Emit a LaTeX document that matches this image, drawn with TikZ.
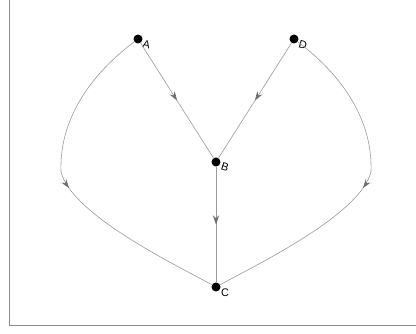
\documentclass[tikz,border=0pt]{standalone}
\usepackage{fontspec}
\setmainfont{Liberation Sans}
\usetikzlibrary{arrows.meta,decorations.markings}
\definecolor{arrgray}{HTML}{6E6E6E}
\tikzset{
  dot/.style={circle,fill=black,inner sep=0pt,minimum size=9pt},
  lab/.style={font=\fontsize{11pt}{12pt}\selectfont,inner sep=0pt},
  edge/.style={draw=gray!80,line width=0.6pt,
    postaction={decorate,decoration={markings,
      mark=at position 0.5 with {\arrow{Stealth[length=9pt,width=6pt,inset=3pt,color=arrgray]}}}}},
  frame/.style={draw=gray!90,line width=1pt}
}
\begin{document}
\begin{tikzpicture}[x=1pt,y=-1pt]
\useasboundingbox (0,0) rectangle (416,334);
\draw[frame] (9.5,0) -- (9.5,325.5) -- (416,325.5);
\node[dot] (A) at (138,39) {};
\node[dot] (D) at (294,39) {};
\node[dot] (B) at (216,162) {};
\node[dot] (C) at (216,287) {};
\coordinate (ML) at (61,172);
\coordinate (MR) at (371,172);
\node[lab,rotate=-12] (lA) at (146.5,44.5) {A};
\node[lab,rotate=-15] (lD) at (303,44.5) {D};
\node[lab,rotate=-18] (lB) at (225,167.5) {B};
\node[lab] (lC) at (225,292.5) {C};
\draw[edge] (A) -- (B);
\draw[edge] (D) -- (B);
\draw[edge] (B) -- (C);
\draw[edge] (A) .. controls (90,75) and (59,120) .. (ML) .. controls (72,215) and (176,265) .. (C);
\draw[edge] (D) .. controls (342,75) and (373,120) .. (MR) .. controls (360,215) and (256,265) .. (C);
\end{tikzpicture}
\end{document}
